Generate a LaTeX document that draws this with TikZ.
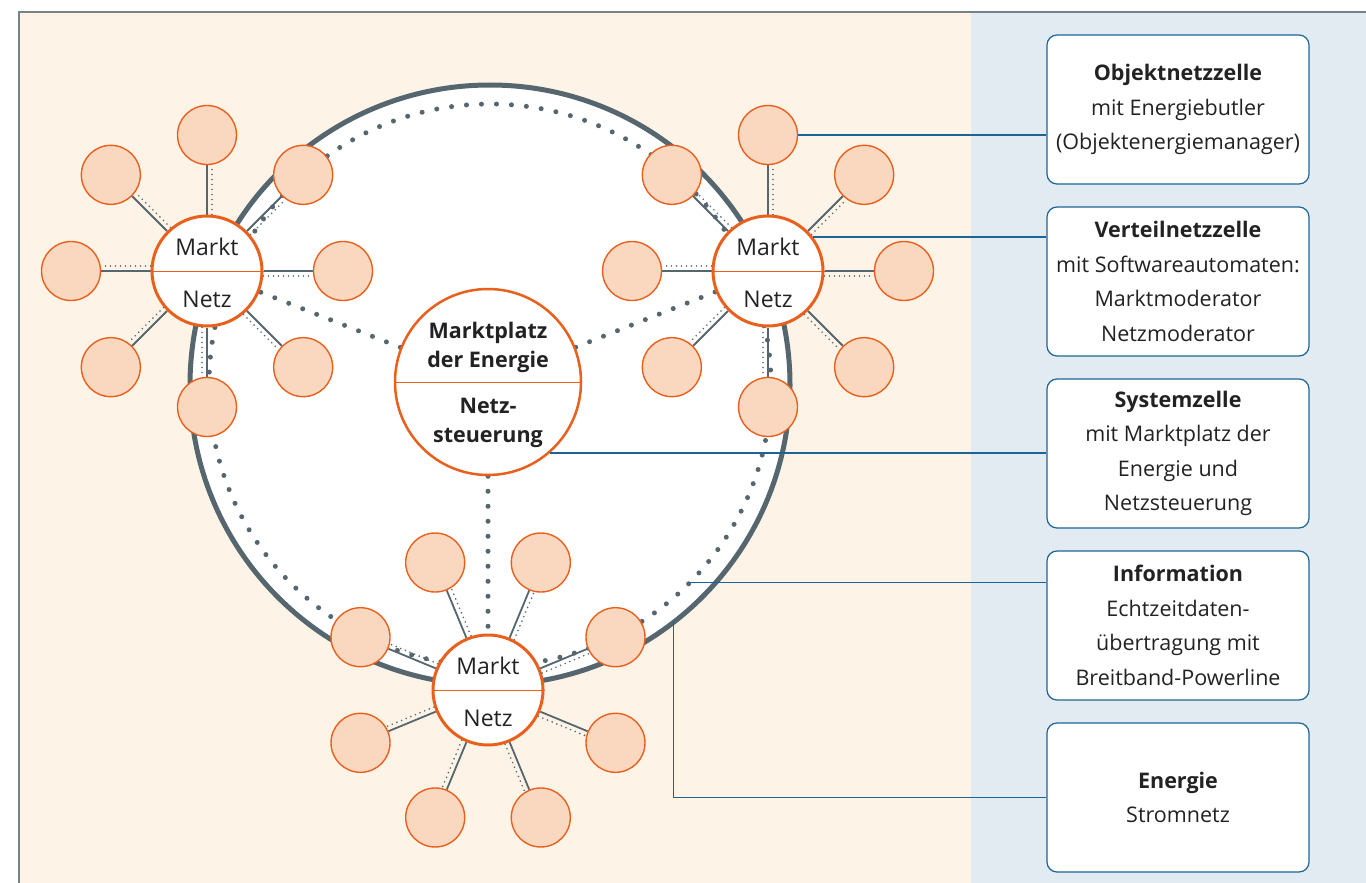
\documentclass[tikz,border=0pt]{standalone}
\usepackage{fontspec}
\setmainfont{Open Sans}
\usetikzlibrary{calc}
\definecolor{cream}{HTML}{FEF3E7}
\definecolor{panel}{HTML}{E2EAF2}
\definecolor{framecol}{HTML}{76838A}
\definecolor{ringgray}{HTML}{56666E}
\definecolor{orng}{HTML}{E8601C}
\definecolor{satfill}{HTML}{FAD8C0}
\definecolor{leadblue}{HTML}{1B6596}
\definecolor{txt}{HTML}{222222}
\pgfdeclarelayer{bg}
\pgfdeclarelayer{conn}
\pgfsetlayers{bg,conn,main}
\begin{document}
\begin{tikzpicture}[x=1pt,y=1pt,
  every node/.style={text=txt},
  bigring/.style={circle, draw=ringgray, line width=5pt, fill=white, minimum size=600pt, inner sep=0pt},
  infodots/.style={draw=ringgray, line width=5pt, line cap=round, dash pattern=on 0pt off 15pt},
  wire/.style={draw=ringgray, line width=1.8pt},
  wiredots/.style={draw=ringgray, line width=1.8pt, line cap=round, dash pattern=on 0pt off 5pt},
  sat/.style={circle, draw=orng, line width=1.4pt, fill=satfill, minimum size=59pt, inner sep=0pt},
  hub/.style={circle, draw=orng, line width=3pt, fill=white, minimum size=110pt, inner sep=0pt},
  centerhub/.style={circle, draw=orng, line width=2.5pt, fill=white, minimum size=186pt, inner sep=0pt},
  divider/.style={draw=orng, line width=1pt},
  hubtext/.style={font=\fontsize{23}{24}\selectfont, inner sep=0pt},
  centertext/.style={font=\fontsize{21.5}{29}\selectfont\bfseries, align=center, inner sep=0pt},
  infobox/.style={draw=leadblue, line width=1.2pt, fill=white, rounded corners=10pt,
     minimum width=262pt, minimum height=149pt, align=center, inner sep=0pt,
     font=\fontsize{21.5}{34.5}\selectfont},
  lead/.style={draw=leadblue, line width=1.6pt}
]
\useasboundingbox (0,0) rectangle (1366,-883);
\begin{pgfonlayer}{bg}
\fill[white] (0,0) rectangle (1366,-883);
\fill[cream] (19,-12) rectangle (971,-883);
\fill[panel] (971,-12) rectangle (1366,-883);
\draw[framecol, line width=2pt] (19,-883) -- (19,-12) -- (1366,-12);
\node[bigring] (O) at (490,-385) {};
\end{pgfonlayer}

% hubs
\node[hub] (TL) at (207,-271) {};
\node[hub] (TR) at (768,-271) {};
\node[hub] (BH) at (488,-690) {};
\node[centerhub] (C) at (488,-382) {};

% satellites
\foreach \a [count=\i] in {0,45,...,315} {
  \node[sat] (TL-\i) at ($(TL)+(\a:136)$) {};
  \node[sat] (TR-\i) at ($(TR)+(\a:136)$) {};
}
\foreach \a [count=\i] in {22.5,67.5,112.5,157.5,202.5,247.5,292.5,337.5} {
  \node[sat] (BH-\i) at ($(BH)+(\a:138)$) {};
}

\begin{pgfonlayer}{conn}
\draw[infodots] (O) circle[radius=281];
\draw[infodots] (C) -- (TL);
\draw[infodots] (C) -- (TR);
\draw[infodots] (C) -- (BH);
\foreach \h in {TL,TR} {
  \foreach \a [count=\i] in {0,45,...,315} {
    \draw[wire] (\h) -- (\h-\i);
    \draw[wiredots, transform canvas={shift={({\a-90}:5)}}] (\h) -- (\h-\i);
  }
}
\foreach \a [count=\i] in {22.5,67.5,112.5,157.5,202.5,247.5,292.5,337.5} {
  \draw[wire] (BH) -- (BH-\i);
  \draw[wiredots, transform canvas={shift={({\a-90}:5)}}] (BH) -- (BH-\i);
}
\end{pgfonlayer}

% hub dividers and labels
\foreach \h in {TL,TR,BH} {
  \draw[divider] (\h.west) -- (\h.east);
  \node[hubtext] (\h-m) at ($(\h)+(0,24)$) {Markt};
  \node[hubtext] (\h-n) at ($(\h)+(0,-28)$) {Netz};
}
\draw[divider] (C.west) -- (C.east);
\node[centertext] (C-top) at ($(C)+(0,34.5)$) {Marktplatz\\der Energie};
\node[centertext] (C-bot) at ($(C)+(0,-40.5)$) {Netz-\\steuerung};

% info boxes
\node[infobox] (B1) at (1178,-109.5) {\textbf{Objektnetzzelle}\\mit Energiebutler\\(Objektenergiemanager)};
\node[infobox] (B2) at (1178,-281.5) {\textbf{Verteilnetzzelle}\\mit Softwareautomaten:\\Marktmoderator\\Netzmoderator};
\node[infobox] (B3) at (1178,-453.5) {\textbf{Systemzelle}\\mit Marktplatz der\\Energie und\\Netzsteuerung};
\node[infobox] (B4) at (1178,-625.5) {\textbf{Information}\\Echtzeitdaten-\\übertragung mit\\Breitband-Powerline};
\node[infobox] (B5) at (1178,-797.5) {\textbf{Energie}\\Stromnetz};

% leader lines
\coordinate (info) at ($(O)+(-44.7:281)$);
\coordinate (energy) at ($(O)+(-52.3:300)$);
\draw[lead] (TR-3.east) -- (TR-3.east -| B1.west);
\draw[lead] (TR.37) -- (TR.37 -| B2.west);
\draw[lead] (C.-49) -- (C.-49 -| B3.west);
\draw[lead] (info) -- (info -| B4.west);
\draw[lead] (energy) |- (B5.west);
\end{tikzpicture}
\end{document}
